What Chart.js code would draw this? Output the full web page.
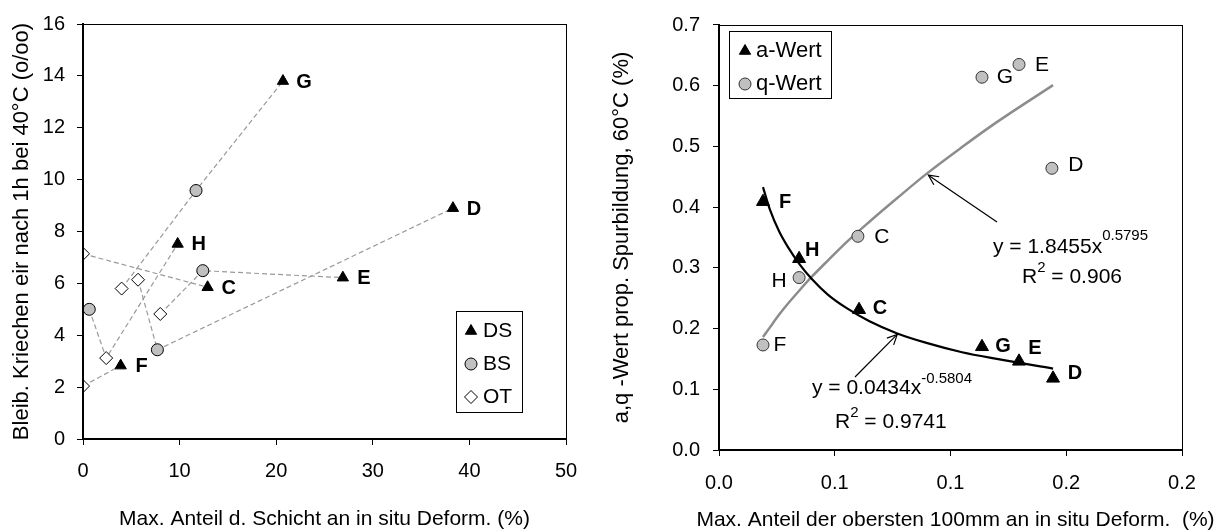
<!DOCTYPE html>
<html><head><meta charset="utf-8">
<script src="https://cdn.jsdelivr.net/npm/chart.js@4.4.1/dist/chart.umd.min.js"></script>
<style>
html,body{margin:0;padding:0;background:#fff;width:1221px;height:532px;overflow:hidden}
#c1{position:absolute;left:0;top:0}
#c2{position:absolute;left:600px;top:0}
</style></head><body>
<canvas id="c1" width="600" height="532"></canvas>
<canvas id="c2" width="621" height="532"></canvas>
<script>
// ---------- Left chart data ----------
const samples = ['G','H','C','E','D','F'];
const dsX = [20.7, 9.8, 12.9, 26.9, 38.3, 3.9];
const dsY = [13.8, 7.52, 5.85, 6.22, 8.9, 2.83];
const bsX = [11.7, 0.65, null, 12.4, 7.7, null];
const bsY = [9.58, 5.0, null, 6.49, 3.44, null];
const otX = [4.0, 2.4, 0, 8.0, 5.7, 0];
const otY = [5.8, 3.12, 7.14, 4.82, 6.14, 2.04];
const linkOrderDefault = ['OT','BS','DS'];
const linkOrderH = ['BS','OT','DS'];
const leftSeriesNames = ['DS','BS','OT'];
const leftXTicks = [0,10,20,30,40,50];
const leftYTicks = [0,2,4,6,8,10,12,14,16];

// ---------- Right chart data ----------
const rightLabels = ['F','H','C','G','E','D'];
const rX = [0.019, 0.0346, 0.0605, 0.1136, 0.1296, 0.1443];
const aWert = [0.409, 0.315, 0.231, 0.170, 0.146, 0.118];
const qX = [0.019, 0.0346, 0.060, 0.1136, 0.1296, 0.1438];
const qWert = [0.173, 0.284, 0.352, 0.614, 0.635, 0.464];
const fitX = [0.019, 0.022, 0.026, 0.030, 0.035, 0.040, 0.047, 0.055, 0.065, 0.077, 0.090, 0.105, 0.120, 0.1443];
const aFitY = [0.433, 0.396, 0.360, 0.333, 0.305, 0.282, 0.256, 0.234, 0.212, 0.192, 0.176, 0.161, 0.150, 0.134];
const qFitY = [0.186, 0.202, 0.223, 0.242, 0.264, 0.285, 0.312, 0.342, 0.376, 0.415, 0.456, 0.499, 0.540, 0.601];
const rightSeriesNames = ['a-Wert','q-Wert'];
const rightXTickLabels = ['0.0','0.1','0.1','0.2','0.2'];
const rightYTickLabels = ['0.0','0.1','0.2','0.3','0.4','0.5','0.6','0.7'];
const rightXTitle = 'Max. Anteil der obersten 100mm an in situ Deform.  (%)';
const aFitText = ['y = 0.0434x', '-0.5804', 'R', '2', ' = 0.9741'];
const qFitText = ['y = 1.8455x', '0.5795', 'R', '2', ' = 0.906'];

const FONT = "'Liberation Sans', Arial, sans-serif";
Chart.defaults.font.family = FONT;
Chart.defaults.color = '#000';

function pts(xs, ys){ const o=[]; for(let i=0;i<xs.length;i++){ if(xs[i]!==null&&ys[i]!==null) o.push({x:xs[i],y:ys[i]}); } return o; }

// ---------- Left chart ----------
const leftSeries = {
  DS: {x: dsX, y: dsY},
  BS: {x: bsX, y: bsY},
  OT: {x: otX, y: otY}
};
const connectors = samples.map((s, i) => {
  const order = s === 'H' ? linkOrderH : linkOrderDefault;
  const data = [];
  order.forEach(k => { const p = leftSeries[k]; if (p.x[i] !== null) data.push({x: p.x[i], y: p.y[i]}); });
  return {type:'scatter', showLine:true, data, borderColor:'#9a9a9a', borderWidth:1.2, borderDash:[5,3], pointRadius:0, order:10};
});

const leftStyles = {
  DS: {pointStyle:'triangle', pointRadius:6.5, backgroundColor:'#000', borderColor:'#000', borderWidth:1},
  BS: {pointStyle:'circle', pointRadius:6, backgroundColor:'#c0c0c0', borderColor:'#000', borderWidth:1},
  OT: {pointStyle:'rectRot', pointRadius:6.5, backgroundColor:'#fff', borderColor:'#000', borderWidth:1}
};

function frame(chart){
  const {ctx, chartArea:a} = chart;
  ctx.save(); ctx.strokeStyle='#000'; ctx.lineWidth=1;
  ctx.strokeRect(a.left+0.5, a.top+0.5, a.right-a.left, a.bottom-a.top);
  ctx.restore();
}
function txt(ctx, s, x, y, font, align){
  ctx.font = font; ctx.textAlign = align || 'left'; ctx.textBaseline = 'middle'; ctx.fillStyle = '#000';
  ctx.fillText(s, x, y);
  return ctx.measureText(s).width;
}
function arrow(ctx, x1, y1, x2, y2){
  ctx.save(); ctx.strokeStyle='#000'; ctx.lineWidth=1.2;
  ctx.beginPath(); ctx.moveTo(x1,y1); ctx.lineTo(x2,y2); ctx.stroke();
  const ang = Math.atan2(y2-y1, x2-x1), L=11, w=0.45;
  ctx.beginPath();
  ctx.moveTo(x2 - L*Math.cos(ang-w), y2 - L*Math.sin(ang-w));
  ctx.lineTo(x2, y2);
  ctx.lineTo(x2 - L*Math.cos(ang+w), y2 - L*Math.sin(ang+w));
  ctx.stroke(); ctx.restore();
}
function legendMarker(ctx, style, x, y){
  Chart.helpers.drawPoint(ctx, {pointStyle: style.pointStyle, radius: style.pointRadius, borderWidth: style.borderWidth, rotation:0}, x, y);
}

const leftPlugin = {
  id:'leftOverlay',
  afterDatasetsDraw(chart){
    const ctx = chart.ctx, xs = chart.scales.x, ys = chart.scales.y, a = chart.chartArea;
    frame(chart);
    samples.forEach((s,i) => {
      txt(ctx, s, xs.getPixelForValue(dsX[i]) + 21, ys.getPixelForValue(dsY[i]) + 1, 'bold 20px ' + FONT, 'center');
    });
    // legend
    const bx = a.left + 373, by = a.top + 287;
    ctx.save(); ctx.fillStyle='#fff'; ctx.fillRect(bx, by, 66, 101);
    ctx.strokeStyle='#000'; ctx.lineWidth=1; ctx.strokeRect(bx+0.5, by+0.5, 66, 101); ctx.restore();
    leftSeriesNames.forEach((n, k) => {
      const st = leftStyles[n];
      const yy = by + 20 + k*33;
      ctx.save(); ctx.fillStyle = st.backgroundColor; ctx.strokeStyle = st.borderColor; ctx.lineWidth = st.borderWidth;
      legendMarker(ctx, st, bx + 15, yy); ctx.restore();
      txt(ctx, n, bx + 27, yy, '21px ' + FONT, 'left');
    });
  }
};

new Chart(document.getElementById('c1'), {
  type:'scatter',
  data:{ datasets: [
    ...leftSeriesNames.map((n, k) => Object.assign({label:n, data: pts(leftSeries[n].x, leftSeries[n].y), order:k}, leftStyles[n])),
    ...connectors
  ]},
  options:{
    responsive:false, animation:false, devicePixelRatio:1,
    layout:{padding:{left:0, top:20, right:34, bottom:0}},
    plugins:{legend:{display:false}, tooltip:{enabled:false}},
    scales:{
      x:{type:'linear', min:0, max:50,
        afterBuildTicks: s => { s.ticks = leftXTicks.map(v => ({value:v})); },
        afterFit: s => { s.height = 93; },
        ticks:{font:{size:20}, padding:14, color:'#000', maxRotation:0},
        grid:{display:true, drawOnChartArea:false, drawTicks:true, tickLength:6, color:'#000', lineWidth:1},
        border:{display:true, color:'#000', width:2},
        title:{display:true, text:'Max. Anteil d. Schicht an in situ Deform. (%)', font:{size:21}, padding:{top:0,bottom:0}, color:'#000'}
      },
      y:{type:'linear', min:0, max:16,
        afterBuildTicks: s => { s.ticks = leftYTicks.map(v => ({value:v})); },
        afterFit: s => { s.width = 83; },
        ticks:{font:{size:20}, padding:12, color:'#000'},
        grid:{display:true, drawOnChartArea:false, drawTicks:true, tickLength:6, color:'#000', lineWidth:1},
        border:{display:true, color:'#000', width:2},
        title:{display:true, text:'Bleib. Kriechen eir nach 1h bei 40°C (o/oo)', font:{size:22}, padding:{top:9,bottom:0}, color:'#000'}
      }
    }
  },
  plugins:[leftPlugin]
});

// ---------- Right chart ----------
const aStyle = {pointStyle:'triangle', pointRadius:7.5, backgroundColor:'#000', borderColor:'#000', borderWidth:1};
const qStyle = {pointStyle:'circle', pointRadius:6, backgroundColor:'#c0c0c0', borderColor:'#333', borderWidth:1};
const aLabelOff = {F:[22,1], H:[13,-8], C:[21,-1], G:[21,0], E:[16,-13], D:[22,-5]};
const qLabelOff = {F:[17,0], H:[-20,4], C:[24,1], G:[23,0], E:[23,1], D:[24,-3]};

const rightPlugin = {
  id:'rightOverlay',
  afterDatasetsDraw(chart){
    const ctx = chart.ctx, xs = chart.scales.x, ys = chart.scales.y, a = chart.chartArea;
    frame(chart);
    rightLabels.forEach((s,i) => {
      const o = aLabelOff[s];
      txt(ctx, s, xs.getPixelForValue(rX[i]) + o[0], ys.getPixelForValue(aWert[i]) + o[1], 'bold 20px ' + FONT, 'center');
      const p = qLabelOff[s];
      txt(ctx, s, xs.getPixelForValue(qX[i]) + p[0], ys.getPixelForValue(qWert[i]) + p[1], '21px ' + FONT, 'center');
    });
    // a-fit annotation
    const ai = 9; // arrow tip on fit curve point
    arrow(ctx, 255, 377, xs.getPixelForValue(fitX[ai]), ys.getPixelForValue(aFitY[ai]) + 1);
    let w = txt(ctx, aFitText[0], 212, 388, '21px ' + FONT);
    txt(ctx, aFitText[1], 212 + w, 379, '15px ' + FONT);
    w = txt(ctx, aFitText[2], 235, 422, '21px ' + FONT);
    const w2 = txt(ctx, aFitText[3], 235 + w, 413, '15px ' + FONT);
    txt(ctx, aFitText[4], 235 + w + w2, 422, '21px ' + FONT);
    // q-fit annotation
    const qi = 10;
    arrow(ctx, 397, 222, xs.getPixelForValue(fitX[qi]) + 1, ys.getPixelForValue(qFitY[qi]) + 2);
    w = txt(ctx, qFitText[0], 393, 247, '21px ' + FONT);
    txt(ctx, qFitText[1], 393 + w, 236, '15px ' + FONT);
    w = txt(ctx, qFitText[2], 422, 277, '21px ' + FONT);
    const w3 = txt(ctx, qFitText[3], 422 + w, 268, '15px ' + FONT);
    txt(ctx, qFitText[4], 422 + w + w3, 277, '21px ' + FONT);
    // legend
    const bx = a.left + 10, by = a.top + 6;
    ctx.save(); ctx.fillStyle='#fff'; ctx.fillRect(bx, by, 102, 67);
    ctx.strokeStyle='#000'; ctx.lineWidth=1; ctx.strokeRect(bx+0.5, by+0.5, 102, 67); ctx.restore();
    [aStyle, qStyle].forEach((st, k) => {
      const yy = by + 20 + k*33;
      ctx.save(); ctx.fillStyle = st.backgroundColor; ctx.strokeStyle = st.borderColor; ctx.lineWidth = st.borderWidth;
      legendMarker(ctx, Object.assign({}, st, {pointRadius: k===0 ? 6.5 : 6}), bx + 16, yy); ctx.restore();
      txt(ctx, rightSeriesNames[k], bx + 27, yy, '22px ' + FONT, 'left');
    });
  },
  afterDraw(chart){
    // x-axis title (wider than the plot area, so drawn without width limit)
    const a = chart.chartArea;
    txt(chart.ctx, rightXTitle, (a.left + a.right) / 2 + 5, 520, '21px ' + FONT, 'center');
  }
};

new Chart(document.getElementById('c2'), {
  type:'scatter',
  data:{ datasets: [
    Object.assign({label:rightSeriesNames[0], data: pts(rX, aWert), order:0}, aStyle),
    Object.assign({label:rightSeriesNames[1], data: pts(qX, qWert), order:1}, qStyle),
    {label:'a-fit', data: pts(fitX, aFitY), showLine:true, pointRadius:0, borderColor:'#000', borderWidth:2.2, cubicInterpolationMode:'monotone', order:5},
    {label:'q-fit', data: pts(fitX, qFitY), showLine:true, pointRadius:0, borderColor:'#8c8c8c', borderWidth:2.5, cubicInterpolationMode:'monotone', order:6}
  ]},
  options:{
    responsive:false, animation:false, devicePixelRatio:1,
    layout:{padding:{left:0, top:17, right:39, bottom:0}},
    plugins:{legend:{display:false}, tooltip:{enabled:false}},
    scales:{
      x:{type:'linear', min:0, max:0.2,
        afterBuildTicks: s => { s.ticks = rightXTickLabels.map((t,i) => ({value: i*0.05})); },
        afterFit: s => { s.height = 82; },
        ticks:{font:{size:20}, padding:15, color:'#000', maxRotation:0, callback:(v,i) => rightXTickLabels[i]},
        grid:{display:true, drawOnChartArea:false, drawTicks:true, tickLength:6, color:'#000', lineWidth:1},
        border:{display:true, color:'#000', width:2},
        title:{display:false}
      },
      y:{type:'linear', min:0, max:0.7,
        afterBuildTicks: s => { s.ticks = rightYTickLabels.map((t,i) => ({value: i*0.1})); },
        afterFit: s => { s.width = 119; },
        ticks:{font:{size:20}, padding:13, color:'#000', callback:(v,i) => rightYTickLabels[i]},
        grid:{display:true, drawOnChartArea:false, drawTicks:true, tickLength:6, color:'#000', lineWidth:1},
        border:{display:true, color:'#000', width:2},
        title:{display:true, text:'a,q -Wert prop. Spurbildung, 60°C (%)', font:{size:22}, padding:{top:9,bottom:0}, color:'#000'}
      }
    }
  },
  plugins:[rightPlugin]
});
</script>
</body></html>
